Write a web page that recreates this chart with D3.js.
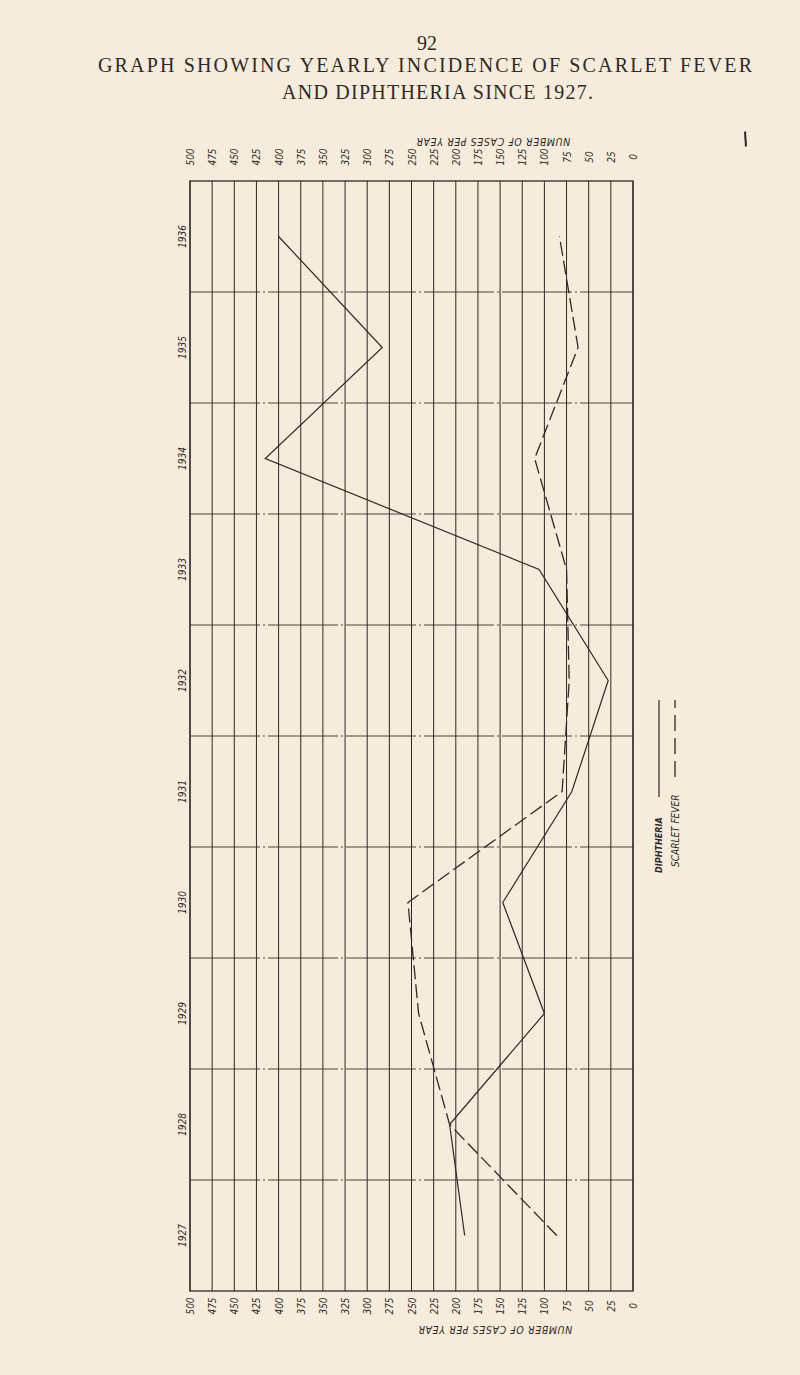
<!DOCTYPE html>
<html><head><meta charset="utf-8">
<script src="https://cdn.jsdelivr.net/npm/d3@7"></script>
<style>body{margin:0;background:#f5ecdc}svg{display:block}</style>
</head><body>
<svg id="c" width="800" height="1375"></svg>
<script>
// ---- data ----
const years = [1927, 1928, 1929, 1930, 1931, 1932, 1933, 1934, 1935, 1936];
const diphtheria = [190, 207, 100, 147, 69, 28, 106, 415, 283, 400];
const scarletFever = [86, 207, 242, 254, 80, 72, 75, 111, 62, 83];
const valueTicks = [500, 475, 450, 425, 400, 375, 350, 325, 300, 275, 250, 225, 200, 175, 150, 125, 100, 75, 50, 25, 0];
const seriesNames = ["DIPHTHERIA", "SCARLET FEVER"];
const pageNumber = "92";
const titleLines = ["GRAPH SHOWING YEARLY INCIDENCE OF SCARLET FEVER", "AND DIPHTHERIA SINCE 1927."];
const axisTitle = "NUMBER OF CASES PER YEAR";

const ink = "#2e2925";
const svg = d3.select("#c");
svg.append("rect").attr("width", 800).attr("height", 1375).attr("fill", "#f5ecdc");

const L = 190, R = 633, T = 181, B = 1291;
const x = d3.scaleLinear().domain([500, 0]).range([L, R]);
const y = d3.scaleBand().domain(years.slice().reverse()).range([T, B]);
const yc = d => y(d) + y.bandwidth() / 2;

const hand = "'DejaVu Sans Condensed','DejaVu Sans',sans-serif";

// title
svg.append("text").attr("x", 427).attr("y", 50).attr("text-anchor", "middle")
  .attr("font-family", "'Liberation Serif',serif").attr("font-size", 20).attr("fill", ink).text(pageNumber);
svg.append("text").attr("x", 98).attr("y", 72).attr("textLength", 654).attr("lengthAdjust", "spacing")
  .attr("font-family", "'Liberation Serif',serif").attr("font-size", 20).attr("fill", ink).text(titleLines[0]);
svg.append("text").attr("x", 282).attr("y", 99).attr("textLength", 311).attr("lengthAdjust", "spacing")
  .attr("font-family", "'Liberation Serif',serif").attr("font-size", 20).attr("fill", ink).text(titleLines[1]);

// grid
const g = svg.append("g");
g.selectAll("line.v").data(valueTicks).join("line")
  .attr("x1", d => x(d)).attr("x2", d => x(d)).attr("y1", T).attr("y2", B)
  .attr("stroke", ink).attr("stroke-width", 1);
g.selectAll("line.h").data(years.filter(d => d !== 1936)).join("line")
  .attr("x1", L).attr("x2", R).attr("y1", d => y(d)).attr("y2", d => y(d))
  .attr("stroke", ink).attr("stroke-opacity", 0.85).attr("stroke-width", 1)
  .attr("stroke-dasharray", "70,3,2,3");
g.append("rect").attr("x", L).attr("y", T).attr("width", R - L).attr("height", B - T)
  .attr("fill", "none").attr("stroke", ink).attr("stroke-width", 1.3);

// value axes (top & bottom)
function styleVal(sel, off) {
  sel.select(".domain").remove();
  sel.selectAll(".tick line").remove();
  sel.selectAll(".tick text")
    .attr("y", 0).attr("dy", "0.35em")
    .attr("transform", `translate(0,${off}) rotate(-90)`)
    .attr("text-anchor", "middle")
    .attr("font-family", hand).attr("font-style", "italic").attr("font-size", 10).attr("fill", ink);
}
svg.append("g").attr("transform", `translate(0,${T})`)
  .call(d3.axisTop(x).tickValues(valueTicks).tickSize(0).tickFormat(d3.format("d")))
  .call(s => styleVal(s, -24));
svg.append("g").attr("transform", `translate(0,${B})`)
  .call(d3.axisBottom(x).tickValues(valueTicks).tickSize(0).tickFormat(d3.format("d")))
  .call(s => styleVal(s, 15));

// year axis
const ya = svg.append("g").attr("transform", `translate(${L},0)`)
  .call(d3.axisLeft(y).tickSize(0));
ya.select(".domain").remove();
ya.selectAll(".tick text").attr("x", 0).attr("dy", "0.35em")
  .attr("transform", "translate(-8,0) rotate(-90)").attr("text-anchor", "middle")
  .attr("font-family", hand).attr("font-style", "italic").attr("font-size", 10).attr("fill", ink);

// axis titles (upside down)
[[493, 142], [495, 1330]].forEach(([cx, cy]) => {
  svg.append("text").attr("transform", `translate(${cx},${cy}) rotate(180)`)
    .attr("text-anchor", "middle").attr("dy", "0.35em")
    .attr("font-family", hand).attr("font-style", "italic").attr("font-size", 10.5)
    .attr("letter-spacing", 0.6).attr("fill", ink).text(axisTitle);
});

// series lines
const line = d3.line().x(d => x(d.v)).y(d => yc(d.year));
const dD = years.map((yr, i) => ({ year: yr, v: diphtheria[i] }));
const dS = years.map((yr, i) => ({ year: yr, v: scarletFever[i] }));
svg.append("path").datum(dD).attr("d", line).attr("fill", "none")
  .attr("stroke", ink).attr("stroke-width", 1.2);
svg.append("path").datum(dS).attr("d", line).attr("fill", "none")
  .attr("stroke", ink).attr("stroke-width", 1.3).attr("stroke-dasharray", "14,5");

// legend
const lg = svg.append("g");
lg.append("text").attr("transform", "translate(659,873) rotate(-90)").attr("dy", "0.35em")
  .attr("font-family", hand).attr("font-style", "italic").attr("font-weight", "bold")
  .attr("font-size", 9).attr("fill", ink).text(seriesNames[0]);
lg.append("line").attr("x1", 659).attr("x2", 659).attr("y1", 797).attr("y2", 700)
  .attr("stroke", ink).attr("stroke-width", 1.2);
lg.append("text").attr("transform", "translate(675,867) rotate(-90)").attr("dy", "0.35em")
  .attr("font-family", hand).attr("font-style", "italic").attr("font-size", 10)
  .attr("fill", ink).text(seriesNames[1]);
lg.append("line").attr("x1", 675).attr("x2", 675).attr("y1", 777).attr("y2", 700)
  .attr("stroke", ink).attr("stroke-width", 1.3).attr("stroke-dasharray", "16,7");

// small scan mark top right
svg.append("path").attr("d", "M744,132 L746,131 L747,146 L745,147 Z").attr("fill", ink);
</script>
</body></html>
